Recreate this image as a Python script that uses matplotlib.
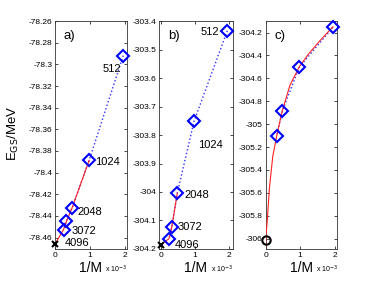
import numpy as np
import matplotlib
matplotlib.use("Agg")
import matplotlib.pyplot as plt
from matplotlib.ticker import FormatStrFormatter, MultipleLocator

plt.rcParams['font.family'] = ['Liberation Sans', 'DejaVu Sans']
plt.rcParams['axes.unicode_minus'] = False

# ---- data (1/M in units of 1e-3, energies in MeV) ----
M_labels = ['512', '1024', '2048', '3072', '4096']
inv_M = [1.953, 0.977, 0.488, 0.326, 0.244]

E_a = [-78.2919, -78.3887, -78.4327, -78.4451, -78.4526]
E_a_extrap = -78.4661

E_b = [-303.434, -303.752, -304.004, -304.123, -304.164]
E_b_extrap = -304.185

inv_M_c = [1.953, 0.977, 0.488, 0.326]
E_c = [-304.154, -304.503, -304.882, -305.101]
E_c_extrap = -306.008
# red fit curve in c
fit_c_x = [0, 0.01, 0.02, 0.05, 0.115, 0.21, 0.326, 0.367, 0.488, 0.708, 0.977, 1.24, 1.58, 1.953]
fit_c_E = [-306.09, -306.0, -305.95, -305.84, -305.55, -305.28, -305.10, -305.04, -304.88,
           -304.66, -304.50, -304.39, -304.27, -304.15]

fig = plt.figure(figsize=(3.74, 2.81), dpi=100)
bot, hgt = 0.114, 0.811
ax_a = fig.add_axes([0.147, bot, 0.1925, hgt])
ax_b = fig.add_axes([0.425, bot, 0.198, hgt])
ax_c = fig.add_axes([0.710, bot, 0.191, hgt])

mk = dict(marker='D', ms=6.3, mfc='none', mec='#0000ff', mew=1.5, ls='none', zorder=4, clip_on=False)
dot = dict(color='#3030ff', ls=':', lw=1.0, zorder=2)
red = dict(color='#ff2020', ls='-', lw=0.8, zorder=3)

# a)
ax_a.plot(inv_M, E_a, **dot)
ax_a.plot(inv_M[1:] + [0], E_a[1:] + [E_a_extrap], **red)
ax_a.plot(inv_M, E_a, **mk)
ax_a.plot([0], [E_a_extrap], marker='x', ms=5, mew=1.5, color='k', ls='none', zorder=5, clip_on=False)
ax_a.set_xlim(0, 2.06)
ax_a.set_ylim(-78.4705, -78.26)
ax_a.yaxis.set_major_locator(MultipleLocator(0.02))
offs_a = [(-1.7, -10, 'right'), (4, -1.5, 'left'), (3.8, -2.7, 'left'), (3.6, -6.7, 'left'), (1, -9.6, 'left')]
for lab, x, y, (dx, dy, ha) in zip(M_labels, inv_M, E_a, offs_a):
    ax_a.annotate(lab, (x, y), xytext=(dx, dy), textcoords='offset points', ha=ha, va='center', fontsize=8)

# b)
ax_b.plot(inv_M, E_b, **dot)
ax_b.plot(inv_M[2:] + [0], E_b[2:] + [E_b_extrap], **red)
ax_b.plot(inv_M, E_b, **mk)
ax_b.plot([0], [E_b_extrap], marker='x', ms=5, mew=1.5, color='k', ls='none', zorder=5, clip_on=False)
ax_b.set_xlim(-0.05, 2.12)
ax_b.set_ylim(-304.2, -303.4)
ax_b.yaxis.set_major_locator(MultipleLocator(0.1))
offs_b = [(-5.5, -1.2, 'right'), (2.9, -17.3, 'left'), (4.8, -1.7, 'left'), (4.3, 0, 'left'), (4.3, -4.3, 'left')]
for lab, x, y, (dx, dy, ha) in zip(M_labels, inv_M, E_b, offs_b):
    ax_b.annotate(lab, (x, y), xytext=(dx, dy), textcoords='offset points', ha=ha, va='center', fontsize=8)

# c)
ax_c.plot(inv_M_c, E_c, **dot)
ax_c.plot(fit_c_x, fit_c_E, **red)
ax_c.plot(inv_M_c, E_c, **mk)
ax_c.plot([0], [E_c_extrap], marker='o', ms=6, mew=1.5, mfc='none', mec='k', ls='none', zorder=5, clip_on=False)
ax_c.set_xlim(0, 2.07)
ax_c.set_ylim(-306.09, -304.1)
ax_c.yaxis.set_major_locator(MultipleLocator(0.2))

for ax, letter in zip([ax_a, ax_b, ax_c], ['a)', 'b)', 'c)']):
    ax.xaxis.set_major_locator(MultipleLocator(1))
    ax.xaxis.set_major_formatter(FormatStrFormatter('%g'))
    ax.yaxis.set_major_formatter(FormatStrFormatter('%g'))
    ax.tick_params(direction='in', length=2.5, width=0.5, labelsize=6, top=True, right=True, pad=2)
    for s in ax.spines.values():
        s.set_linewidth(0.6)
        s.set_color('#333333')
    ax.text(0.12, 0.935, letter, transform=ax.transAxes, fontsize=9.5, va='center', ha='left')
    ax.text(0.5, -0.085, '1/M', transform=ax.transAxes, fontsize=10, va='center', ha='center')
    ax.text(0.7, -0.088, r'x 10$^{-3}$', transform=ax.transAxes, fontsize=5, va='center', ha='left')

fig.text(0.035, 0.527, r'E$_{\rm GS}$/MeV', rotation=90, fontsize=9.5, va='center', ha='center')

fig.savefig('out.png', dpi=100)
